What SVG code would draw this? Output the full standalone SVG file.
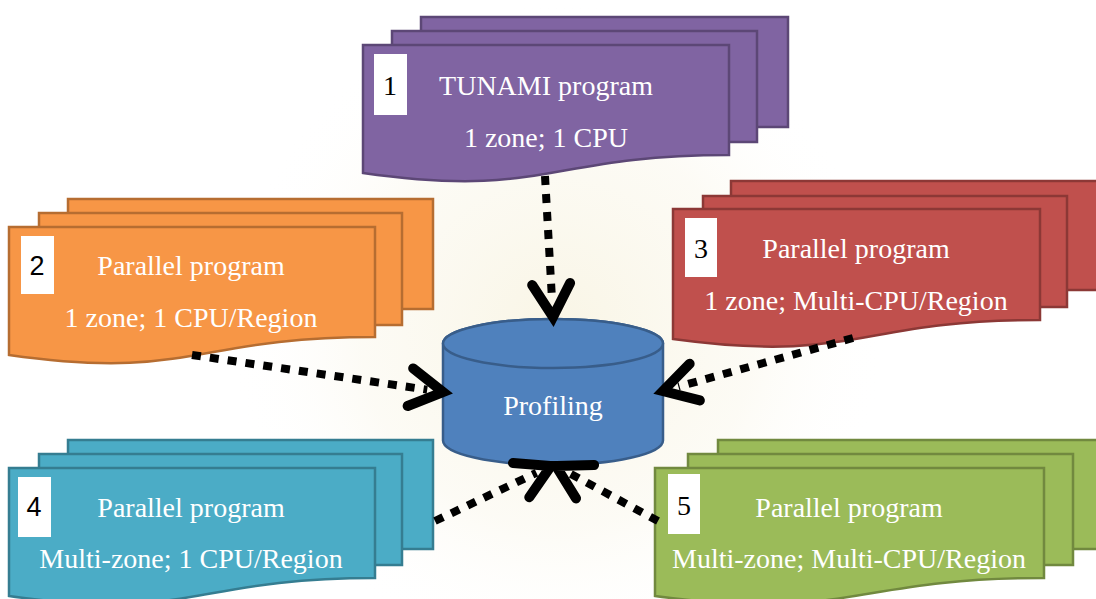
<svg xmlns="http://www.w3.org/2000/svg" width="1096" height="599" viewBox="0 0 1096 599">
  <defs>
    <radialGradient id="glow" cx="558" cy="330" r="330" gradientUnits="userSpaceOnUse">
      <stop offset="0" stop-color="#F4EDD0" stop-opacity="0.55"/>
      <stop offset="0.6" stop-color="#F7F2DE" stop-opacity="0.3"/>
      <stop offset="1" stop-color="#FFFFFF" stop-opacity="0"/>
    </radialGradient>
    <marker id="chevron" markerUnits="userSpaceOnUse" orient="auto" refX="-16" refY="0" markerWidth="60" markerHeight="60" overflow="visible">
      <path d="M-33,-19 L0,0 L-33,19" fill="none" stroke="#000" stroke-width="10" stroke-linecap="round" stroke-linejoin="miter"/>
    </marker>
  </defs>
  <style>
    .label { font-family: "Liberation Serif", "Times New Roman", serif; font-size: 28px; fill: #FFFFFF; text-anchor: middle; }
    .num { font-family: "Liberation Serif", "Times New Roman", serif; font-size: 28px; fill: #000000; text-anchor: middle; }
    .num-sans { font-family: "Liberation Sans", Arial, sans-serif; font-size: 27px; fill: #000000; text-anchor: middle; }
    .tag { fill: #FFFFFF; }
    .sheet { stroke-width: 2.5; stroke-linejoin: miter; }
    .purple { fill: #8064A2; stroke: #5C4776; }
    .orange { fill: #F79646; stroke: #B66D31; }
    .red { fill: #C0504D; stroke: #8C3836; }
    .teal { fill: #4BACC6; stroke: #357D91; }
    .green { fill: #9BBB59; stroke: #71893F; }
    .db { fill: #4F81BD; stroke: #385D8A; stroke-width: 2.5; }
    .flow { fill: none; stroke: #000000; stroke-width: 8; stroke-dasharray: 9 9; marker-end: url(#chevron); }
  </style>

  <rect x="0" y="0" width="1096" height="599" fill="#FFFFFF"/>
  <circle cx="558" cy="330" r="330" fill="url(#glow)"/>

  <!-- 1: TUNAMI program -->
  <g id="node-1">
    <rect class="sheet purple" x="421" y="17" width="367" height="110"/>
    <rect class="sheet purple" x="392" y="31" width="365" height="111"/>
    <path class="sheet purple" d="M363,45 H729 V155 C546,155 546,199 363,173 Z"/>
    <rect class="tag" x="374" y="54" width="33" height="61"/>
    <text class="num" x="390" y="95">1</text>
    <text class="label" x="546" y="95">TUNAMI program</text>
    <text class="label" x="546" y="147">1 zone; 1 CPU</text>
  </g>

  <!-- 2: Parallel program, 1 zone; 1 CPU/Region -->
  <g id="node-2">
    <rect class="sheet orange" x="68" y="199" width="365" height="110"/>
    <rect class="sheet orange" x="39" y="213" width="363" height="112"/>
    <path class="sheet orange" d="M9,227 H375 V337 C192,337 192,381 9,355 Z"/>
    <rect class="tag" x="21" y="236" width="33" height="58"/>
    <text class="num-sans" x="37" y="275">2</text>
    <text class="label" x="191" y="275">Parallel program</text>
    <text class="label" x="191" y="327">1 zone; 1 CPU/Region</text>
  </g>

  <!-- 3: Parallel program, 1 zone; Multi-CPU/Region -->
  <g id="node-3">
    <rect class="sheet red" x="731" y="181" width="370" height="109"/>
    <rect class="sheet red" x="703" y="196" width="364" height="111"/>
    <path class="sheet red" d="M673,209 H1040 V320 C856,320 856,364 673,339 Z"/>
    <rect class="tag" x="685" y="218" width="32" height="59"/>
    <text class="num" x="701" y="258">3</text>
    <text class="label" x="856" y="258">Parallel program</text>
    <text class="label" x="856" y="310">1 zone; Multi-CPU/Region</text>
  </g>

  <!-- 4: Parallel program, Multi-zone; 1 CPU/Region -->
  <g id="node-4">
    <rect class="sheet teal" x="68" y="440" width="365" height="109"/>
    <rect class="sheet teal" x="39" y="454" width="363" height="111"/>
    <path class="sheet teal" d="M9,468 H375 V578 C192,578 192,622 9,596 Z"/>
    <rect class="tag" x="18" y="477" width="33" height="60"/>
    <text class="num-sans" x="34" y="516">4</text>
    <text class="label" x="191" y="517">Parallel program</text>
    <text class="label" x="191" y="568">Multi-zone; 1 CPU/Region</text>
  </g>

  <!-- 5: Parallel program, Multi-zone; Multi-CPU/Region -->
  <g id="node-5">
    <rect class="sheet green" x="718" y="440" width="390" height="109"/>
    <rect class="sheet green" x="688" y="454" width="385" height="111"/>
    <path class="sheet green" d="M655,468 H1044 V578 C850,578 850,622 655,596 Z"/>
    <rect class="tag" x="668" y="474" width="32" height="60"/>
    <text class="num" x="684" y="515">5</text>
    <text class="label" x="849" y="517">Parallel program</text>
    <text class="label" x="849" y="568">Multi-zone; Multi-CPU/Region</text>
  </g>

  <!-- Profiling store -->
  <g id="profiling">
    <path class="db" d="M443,343.5 V440.5 A110,24.5 0 0 0 663,440.5 V343.5 A110,24.5 0 0 0 443,343.5 Z"/>
    <ellipse class="db" cx="553" cy="343.5" rx="110" ry="24.5"/>
    <text class="label" x="553" y="415">Profiling</text>
  </g>

  <!-- Dotted flows into the profiling store -->
  <g id="connectors">
    <path class="flow" d="M545,176 L552.1,301"/>
    <path class="flow" d="M192,355 L427.2,389.7"/>
    <path class="flow" d="M853,338 L678.4,386.7"/>
    <path class="flow" d="M435,521 L536.5,472.8"/>
    <path class="flow" d="M658,521 L570.1,473.6"/>
  </g>
</svg>
